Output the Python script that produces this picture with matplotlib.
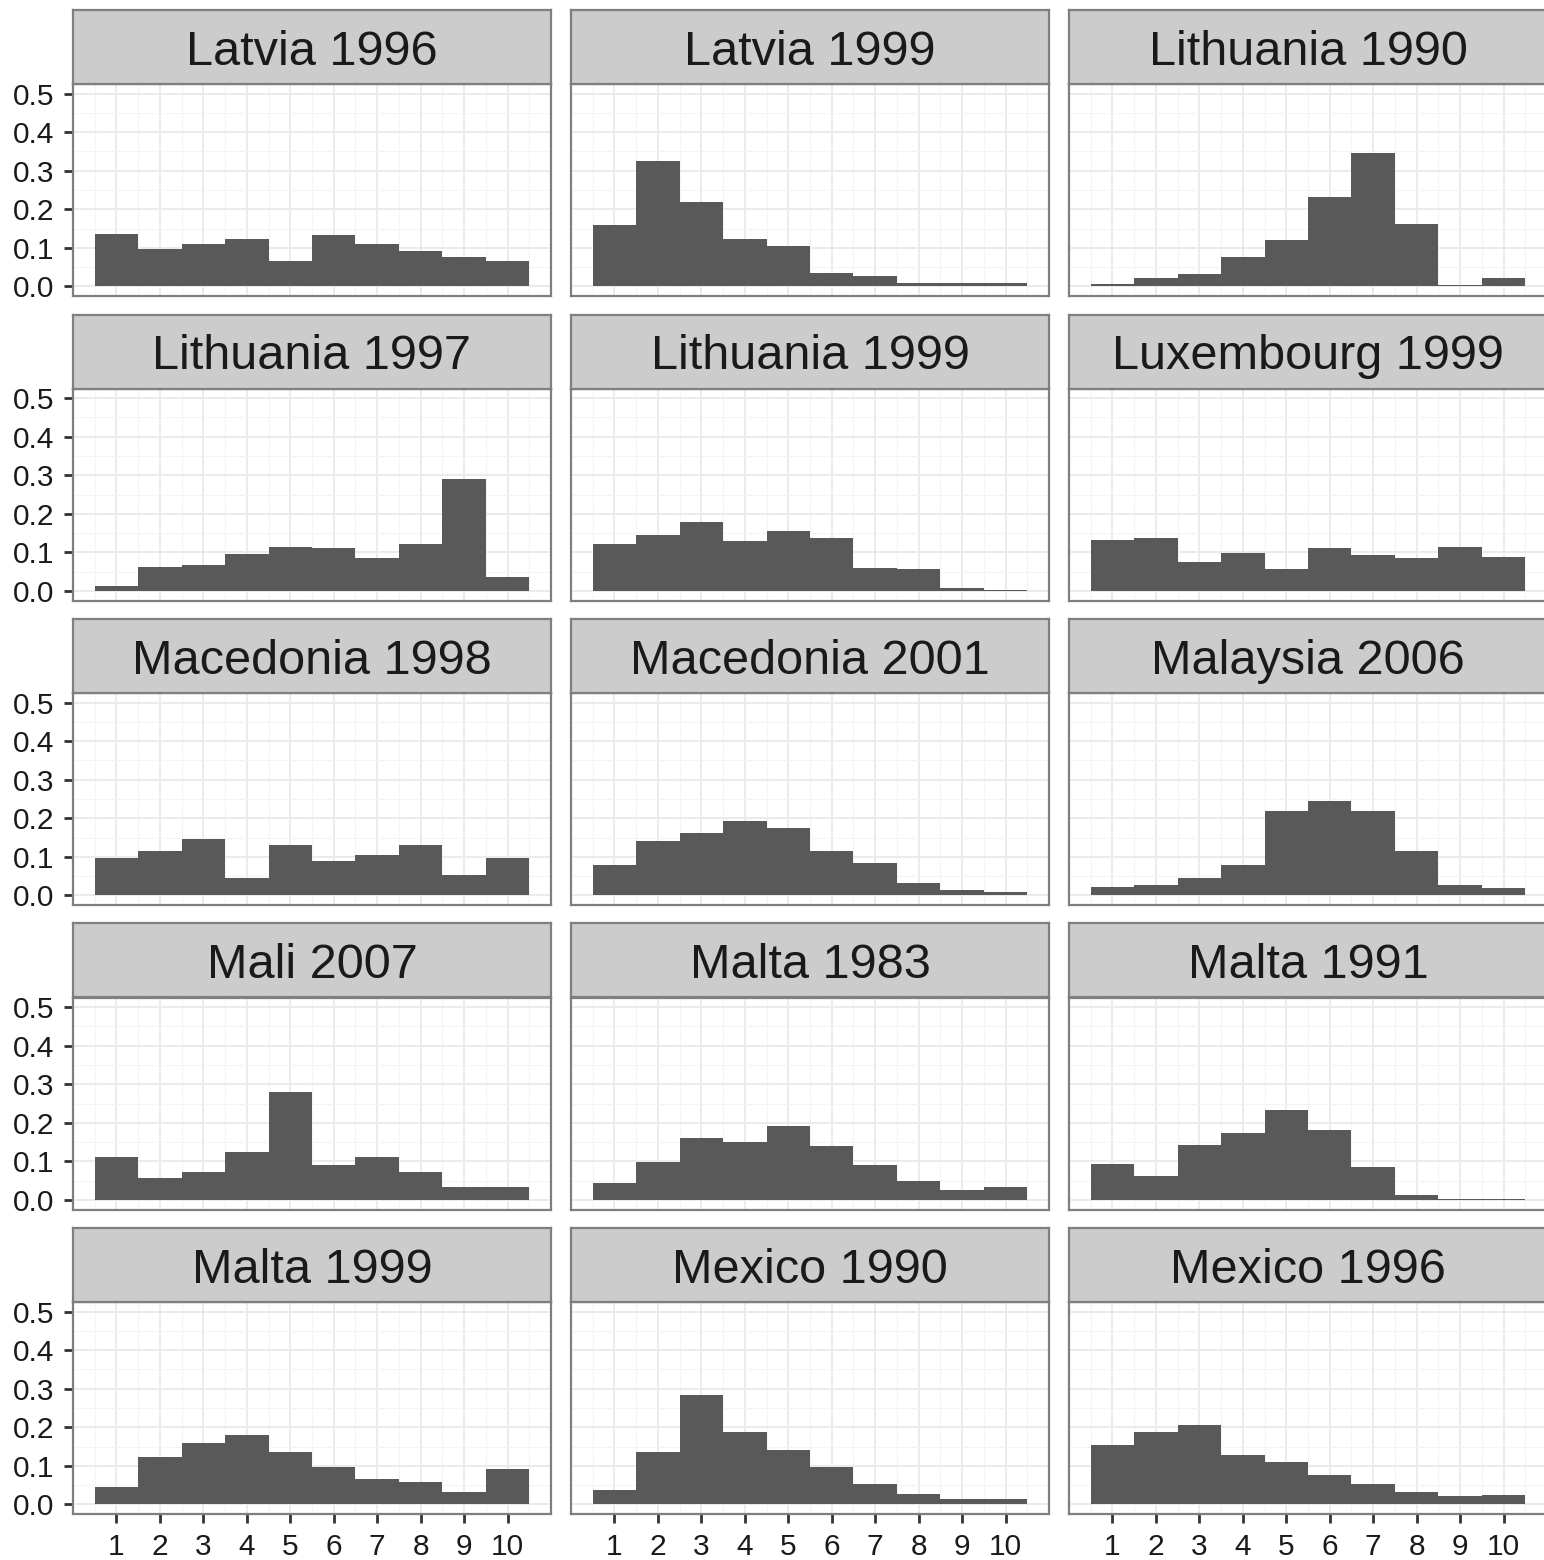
import matplotlib
matplotlib.use("Agg")
import matplotlib.pyplot as plt
import numpy as np

plt.rcParams["font.family"] = ["Liberation Sans", "DejaVu Sans"]

# panel titles, row by row
titles = [
    "Latvia 1996", "Latvia 1999", "Lithuania 1990",
    "Lithuania 1997", "Lithuania 1999", "Luxembourg 1999",
    "Macedonia 1998", "Macedonia 2001", "Malaysia 2006",
    "Mali 2007", "Malta 1983", "Malta 1991",
    "Malta 1999", "Mexico 1990", "Mexico 1996",
]

scores = list(range(1, 11))

# share of respondents at each score
latvia_1996 = [0.135, 0.098, 0.111, 0.122, 0.067, 0.132, 0.111, 0.091, 0.075, 0.065]
latvia_1999 = [0.158, 0.326, 0.220, 0.122, 0.104, 0.034, 0.026, 0.008, 0.008, 0.008]
lithuania_1990 = [0.005, 0.021, 0.031, 0.075, 0.119, 0.231, 0.345, 0.161, 0.003, 0.021]
lithuania_1997 = [0.013, 0.062, 0.067, 0.096, 0.114, 0.111, 0.085, 0.122, 0.290, 0.036]
lithuania_1999 = [0.122, 0.145, 0.179, 0.130, 0.155, 0.137, 0.060, 0.057, 0.008, 0.003]
luxembourg_1999 = [0.132, 0.137, 0.075, 0.098, 0.057, 0.111, 0.093, 0.085, 0.114, 0.088]
macedonia_1998 = [0.098, 0.114, 0.145, 0.044, 0.130, 0.088, 0.106, 0.130, 0.052, 0.098]
macedonia_2001 = [0.078, 0.142, 0.161, 0.194, 0.174, 0.114, 0.085, 0.031, 0.013, 0.010]
malaysia_2006 = [0.021, 0.026, 0.044, 0.078, 0.220, 0.246, 0.218, 0.114, 0.028, 0.018]
mali_2007 = [0.111, 0.057, 0.073, 0.124, 0.280, 0.091, 0.111, 0.073, 0.034, 0.034]
malta_1983 = [0.044, 0.098, 0.161, 0.150, 0.192, 0.140, 0.091, 0.049, 0.026, 0.034]
malta_1991 = [0.093, 0.062, 0.142, 0.174, 0.233, 0.181, 0.085, 0.013, 0.003, 0.003]
malta_1999 = [0.044, 0.122, 0.158, 0.181, 0.137, 0.098, 0.065, 0.057, 0.031, 0.093]
mexico_1990 = [0.036, 0.137, 0.285, 0.187, 0.140, 0.096, 0.052, 0.026, 0.013, 0.013]
mexico_1996 = [0.153, 0.189, 0.207, 0.127, 0.111, 0.075, 0.054, 0.031, 0.021, 0.023]

series = [
    latvia_1996, latvia_1999, lithuania_1990,
    lithuania_1997, lithuania_1999, luxembourg_1999,
    macedonia_1998, macedonia_2001, malaysia_2006,
    mali_2007, malta_1983, malta_1991,
    malta_1999, mexico_1990, mexico_1996,
]

W, H = 1544, 1560
fig = plt.figure(figsize=(W / 100, H / 100), dpi=100)

col_left = [73, 571, 1069]
panel_w = 478
row_top = [84, 388.5, 693, 997.5, 1302]
panel_h = 212
strip_h = 74

border = "#7F7F7F"

for i, (title, vals) in enumerate(zip(titles, series)):
    r, c = divmod(i, 3)
    x0 = col_left[c] / W
    y0 = 1 - (row_top[r] + panel_h) / H
    ax = fig.add_axes([x0, y0, panel_w / W, panel_h / H])
    ax.bar(scores, vals, width=1.0, color="#595959", zorder=3)
    ax.set_xlim(0, 11)
    ax.set_ylim(-0.025, 0.525)
    ax.set_xticks(scores)
    ax.set_xticks(np.arange(0.5, 11, 1.0), minor=True)
    ax.set_yticks([0.0, 0.1, 0.2, 0.3, 0.4, 0.5])
    ax.set_yticks(np.arange(0.05, 0.55, 0.1), minor=True)
    ax.grid(True, which="major", color="#EBEBEB", linewidth=1.4, zorder=0)
    ax.grid(True, which="minor", color="#F4F4F4", linewidth=0.8, zorder=0)
    ax.set_axisbelow(True)
    for s in ax.spines.values():
        s.set_color(border)
        s.set_linewidth(1.6)
    ax.tick_params(which="minor", length=0)
    ax.tick_params(which="major", length=6.5, width=2.0, color="#333333",
                   labelsize=21.5, labelcolor="#1A1A1A", pad=7)
    if c == 0:
        ax.set_yticklabels([f"{v:.1f}" for v in [0.0, 0.1, 0.2, 0.3, 0.4, 0.5]])
    else:
        ax.tick_params(axis="y", which="major", length=0, labelleft=False)
    if r == 4:
        ax.set_xticklabels([str(s) for s in scores])
    else:
        ax.tick_params(axis="x", which="major", length=0, labelbottom=False)

    # facet strip above the panel
    sy0 = 1 - row_top[r] / H
    sax = fig.add_axes([x0, sy0, panel_w / W, strip_h / H])
    sax.set_facecolor("#CCCCCC")
    sax.set_xticks([])
    sax.set_yticks([])
    for s in sax.spines.values():
        s.set_color(border)
        s.set_linewidth(1.6)
    sax.text(0.5, 0.257, title, ha="center", va="baseline", fontsize=35,
             color="#1A1A1A", transform=sax.transAxes)

fig.savefig("out.png", dpi=100, facecolor="white")
